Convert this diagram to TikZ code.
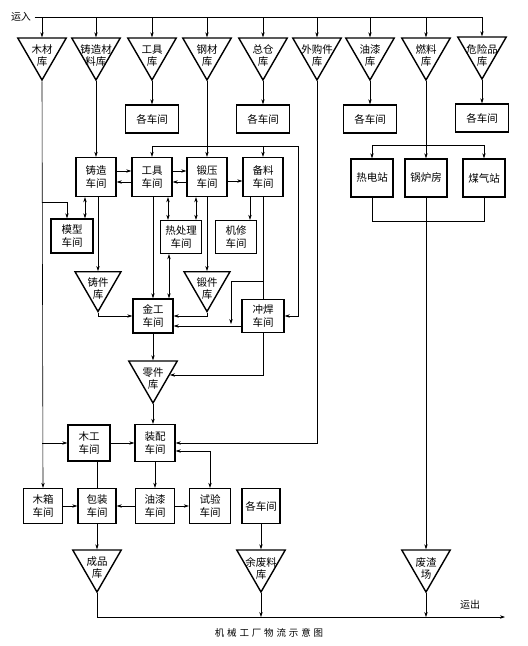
\documentclass[tikz,border=0pt]{standalone}
\usepackage{fontspec}
\setmainfont{Noto Sans CJK SC}
\usetikzlibrary{shapes.geometric,arrows.meta}

\begin{document}
\begin{tikzpicture}[x=1pt,y=-1pt,line width=0.6pt,
  >={Stealth[length=5pt,width=3.4pt]},
  box/.style={draw,line width=1.4pt,minimum width=40pt,minimum height=36pt,inner sep=1pt,align=center,font=\fontsize{10.5}{13}\selectfont},
  wide/.style={box,minimum width=53pt,minimum height=28pt},
  tri/.style={draw,line width=1.4pt,regular polygon,regular polygon sides=3,shape border rotate=180,minimum size=56pt,inner sep=0pt},
  txt/.style={align=center,font=\fontsize{10.5}{12}\selectfont,yshift=-4pt}]
\useasboundingbox (0,0) rectangle (528,646);

\node[tri,label={[txt]center:木材\\库}] (1) at (42,52) {};
\node[tri,label={[txt]center:铸造材\\料库}] (2) at (96,52) {};
\node[tri,label={[txt]center:工具\\库}] (3) at (152,52) {};
\node[tri,label={[txt]center:钢材\\库}] (4) at (207,52) {};
\node[tri,label={[txt]center:总仓\\库}] (5) at (263,52) {};
\node[tri,label={[txt]center:外购件\\库}] (6) at (317,52) {};
\node[tri,label={[txt]center:油漆\\库}] (7) at (370,52) {};
\node[tri,label={[txt]center:燃料\\库}] (8) at (426,52) {};
\node[tri,label={[txt]center:危险品\\库}] (9) at (482,51) {};

\node[wide] (10) at (152,119) {各车间};
\node[wide] (11) at (263,119) {各车间};
\node[wide] (12) at (370,119) {各车间};
\node[wide] (13) at (482,118) {各车间};

\node[box,minimum height=39pt] (14) at (96,177) {铸造\\车间};
\node[box,minimum height=39pt] (15) at (152,177) {工具\\车间};
\node[box,minimum height=39pt] (16) at (207,177) {锻压\\车间};
\node[box,minimum height=39pt] (17) at (263,177) {备料\\车间};
\node[box,minimum width=42pt,minimum height=38pt] (18) at (372,178) {热电站};
\node[box,minimum width=42pt,minimum height=38pt] (19) at (426,178) {锅炉房};
\node[box,minimum width=42pt,minimum height=38pt] (20) at (484,178) {煤气站};

\node[box,minimum width=42pt,minimum height=34pt] (21) at (72,236) {模型\\车间};
\node[box,minimum width=41pt,minimum height=33pt] (22) at (181,237) {热处理\\车间};
\node[box,minimum width=41pt,minimum height=33pt] (23) at (236,237) {机修\\车间};

\node[tri,minimum size=53pt,label={[txt]center:铸件\\库}] (24) at (98,285) {};
\node[tri,minimum size=53pt,label={[txt]center:锻件\\库}] (25) at (207,285) {};

\node[box,minimum height=34pt] (26) at (153,316) {金工\\车间};
\node[box,minimum width=42pt,minimum height=33pt] (27) at (263,316) {冲焊\\车间};

\node[tri,label={[txt]center:零件\\库}] (28) at (153,375) {};

\node[box,minimum width=42pt] (29) at (89,443) {木工\\车间};
\node[box,minimum height=37pt] (30) at (155,443) {装配\\车间};

\node[box,minimum width=39pt,minimum height=35pt] (31) at (43,506) {木箱\\车间};
\node[box,minimum width=38pt,minimum height=35pt] (32) at (97,506) {包装\\车间};
\node[box,minimum width=39pt,minimum height=35pt] (33) at (155,506) {油漆\\车间};
\node[box,minimum width=41pt,minimum height=35pt] (34) at (210,506) {试验\\车间};
\node[box,minimum width=38pt,minimum height=35pt] (35) at (261,506) {各车间};

\node[tri,label={[txt]center:成品\\库}] (36) at (97,564) {};
\node[tri,label={[txt]center:余废料\\库}] (37) at (261,564) {};
\node[tri,label={[txt]center:废渣\\场}] (38) at (426,564) {};

\node[font=\fontsize{10}{12}\selectfont] (39) at (21,17) {运入};
\node[font=\fontsize{10}{12}\selectfont] (40) at (470,605) {运出};
\node[font=\fontsize{9.5}{11}\selectfont\addfontfeature{LetterSpace=30}] (41) at (269,633) {机械工厂物流示意图};

\coordinate (c1) at (207,146);
\coordinate (c2) at (298,146);
\coordinate (c3) at (426,145);
\coordinate (c4) at (263,281);
\coordinate (c5) at (231,324);
\coordinate (c6) at (505,617);
\coordinate (c7) at (42,202);

\path[draw,->] (39.east) -| (9.north);
\foreach \n in {1,...,8}
  \path[draw,->] (\n.north |- 39.east) -- (\n.north);
\foreach \a/\b in {3/10,5/11,7/12,9/13,2/14,4/16}
  \path[draw,->] (\a.south) -- (\b.north);

\path[draw,->] (c1) -| (15.north);
\path[draw,->] (c1) -| (c2) |- (27.east);
\path[draw,->] (17.north |- c1) -- (17.north);
\path[draw] (8.south) -- (c3);
\path[draw,->] (c3) -| (18.north);
\path[draw,->] (c3) -| (20.north);
\path[draw,->] (c3) -- (19.north);
\path[draw] (18.south) -- ++(0,24) -| (20.south);
\path[draw,->] (19.south) -- (38.north);

\path[draw,->] (1.south) -- (31.north);
\path[draw,->] (c7) -| ([xshift=-5pt]21.north);
\path[draw,->] (1.south |- 29.west) -- (29.west);
\path[draw,<->] ([xshift=-11pt]14.south) -- ([xshift=-11pt]14.south |- 21.north);
\path[draw,->] ([xshift=2pt]14.south) -- (24.north);
\path[draw,->] (24.south) |- (26.west);

\path[draw,->] ([yshift=6pt]14.east) -- ([yshift=6pt]15.west);
\path[draw,->] ([yshift=-5pt]15.west) -- ([yshift=-5pt]14.east);
\path[draw,->] ([yshift=6pt]15.east) -- ([yshift=6pt]16.west);
\path[draw,->] ([yshift=-5pt]16.west) -- ([yshift=-5pt]15.east);
\path[draw,->] ([yshift=-4pt]16.east) -- ([yshift=-4pt]17.west);

\path[draw,->] (26.north |- 15.south) -- (26.north);
\path[draw,<->] ([xshift=-13pt]22.north |- 15.south) -- ([xshift=-13pt]22.north);
\path[draw,<->] ([xshift=15pt]22.north |- 16.south) -- ([xshift=15pt]22.north);
\path[draw,<->] ([xshift=-12pt]22.south) -- ([xshift=-12pt]22.south |- 26.north);
\path[draw,->] (16.south) -- (25.north);
\path[draw,->] (25.south) |- (26.east);
\path[draw,->] ([yshift=-10pt]27.west) -- ([yshift=-10pt]27.west -| 26.east);
\path[draw,->] ([xshift=-13pt]17.south) -- ([xshift=-13pt]17.south |- 23.north);
\path[draw] (17.south) -- (27.north);
\path[draw,->] (c4) -| (c5);

\path[draw,->] (27.south) |- (28.east);
\path[draw,->] (26.south) -- (28.north);
\path[draw,->] (28.south) -- (28.south |- 30.north);
\path[draw,->] (6.south) |- (30.east);
\path[draw,<->] ([yshift=-8pt]30.east) -| (34.north);
\path[draw,->] (29.east) -- (30.west);
\path[draw] (32.north |- 29.south) -- (32.north);
\path[draw,->] (30.south) -- (33.north);

\path[draw,->] (31.east) -- (32.west);
\path[draw,->] (33.west) -- (32.east);
\path[draw,->] (33.east) -- (34.west);
\path[draw,->] (32.south) -- (36.north);
\path[draw,->] (35.south) -- (37.north);
\path[draw,->] (36.south) |- (c6);
\path[draw,->] (37.south) -- (37.south |- c6);
\path[draw,->] (38.south) -- (38.south |- c6);
\end{tikzpicture}
\end{document}
